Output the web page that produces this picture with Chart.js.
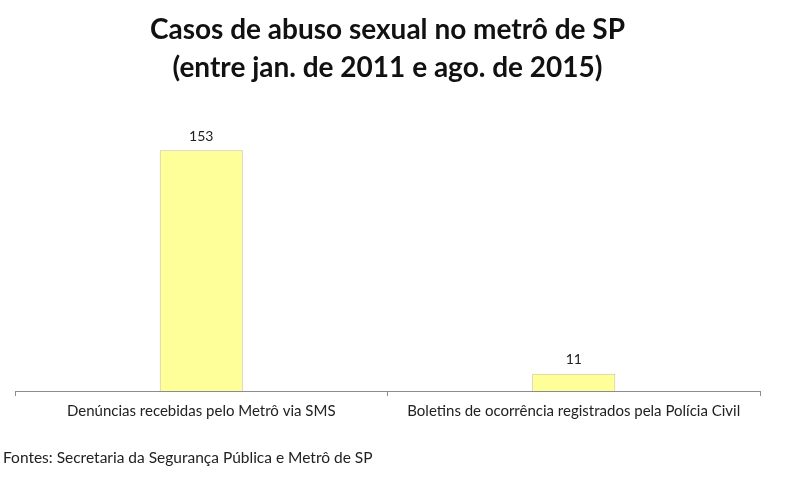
<!DOCTYPE html>
<html>
<head>
<meta charset="utf-8">
<script src="https://cdn.jsdelivr.net/npm/chart.js@4"></script>
<style>
  body { margin: 0; background: #fff; }
  #wrap { width: 788px; height: 482px; }
</style>
</head>
<body>
<div id="wrap"><canvas id="myChart"></canvas></div>
<script>
const categories = [
  "Denúncias recebidas pelo Metrô via SMS",
  "Boletins de ocorrência registrados pela Polícia Civil",
];
const casos = [153, 11];
const titleLines = ["Casos de abuso sexual no metrô de SP", "(entre jan. de 2011 e ago. de 2015)"];
const sourceText = "Fontes: Secretaria da Segurança Pública e Metrô de SP";

// values printed above each bar
const valueLabels = {
  id: "valueLabels",
  afterDatasetsDraw(chart) {
    const ctx = chart.ctx;
    const meta = chart.getDatasetMeta(0);
    ctx.save();
    ctx.font = "14px Lato";
    ctx.fillStyle = "#222";
    ctx.textAlign = "center";
    ctx.textBaseline = "bottom";
    meta.data.forEach((bar, i) => {
      ctx.fillText(chart.data.datasets[0].data[i], bar.x, bar.y - 7);
    });
    ctx.restore();
  },
};

// source line at the bottom left corner
const sourceNote = {
  id: "sourceNote",
  afterDraw(chart) {
    const ctx = chart.ctx;
    ctx.save();
    ctx.font = "15.5px Lato";
    ctx.fillStyle = "#222";
    ctx.textAlign = "left";
    ctx.textBaseline = "middle";
    ctx.fillText(sourceText, 3, 458);
    ctx.restore();
  },
};

const ctx = document.getElementById("myChart").getContext("2d");
const myChart = new Chart(ctx, {
  type: "bar",
  data: {
    labels: categories,
    datasets: [
      {
        data: casos,
        backgroundColor: "#ffff99",
        borderColor: "#c9c58c",
        borderWidth: 1,
        categoryPercentage: 0.223,
        barPercentage: 1,
      },
    ],
  },
  options: {
    responsive: true,
    maintainAspectRatio: false,
    animation: false,
    layout: { padding: { left: 15, right: 28, bottom: 56 } },
    plugins: {
      legend: { display: false },
      tooltip: { enabled: false },
      title: {
        display: true,
        text: titleLines,
        color: "#111",
        font: { family: "Lato", size: 28, weight: "bold", lineHeight: 1.36 },
        padding: { top: 11, bottom: 23 },
      },
    },
    scales: {
      x: {
        grid: { drawOnChartArea: false, drawTicks: true, tickLength: 5, color: "#8c8c8c" },
        border: { display: true, color: "#8c8c8c" },
        ticks: { color: "#222", font: { family: "Lato", size: 15 }, padding: 6, maxRotation: 0 },
      },
      y: {
        display: false,
        min: 0,
        max: 178.5,
      },
    },
  },
  plugins: [valueLabels, sourceNote],
});
</script>
</body>
</html>
